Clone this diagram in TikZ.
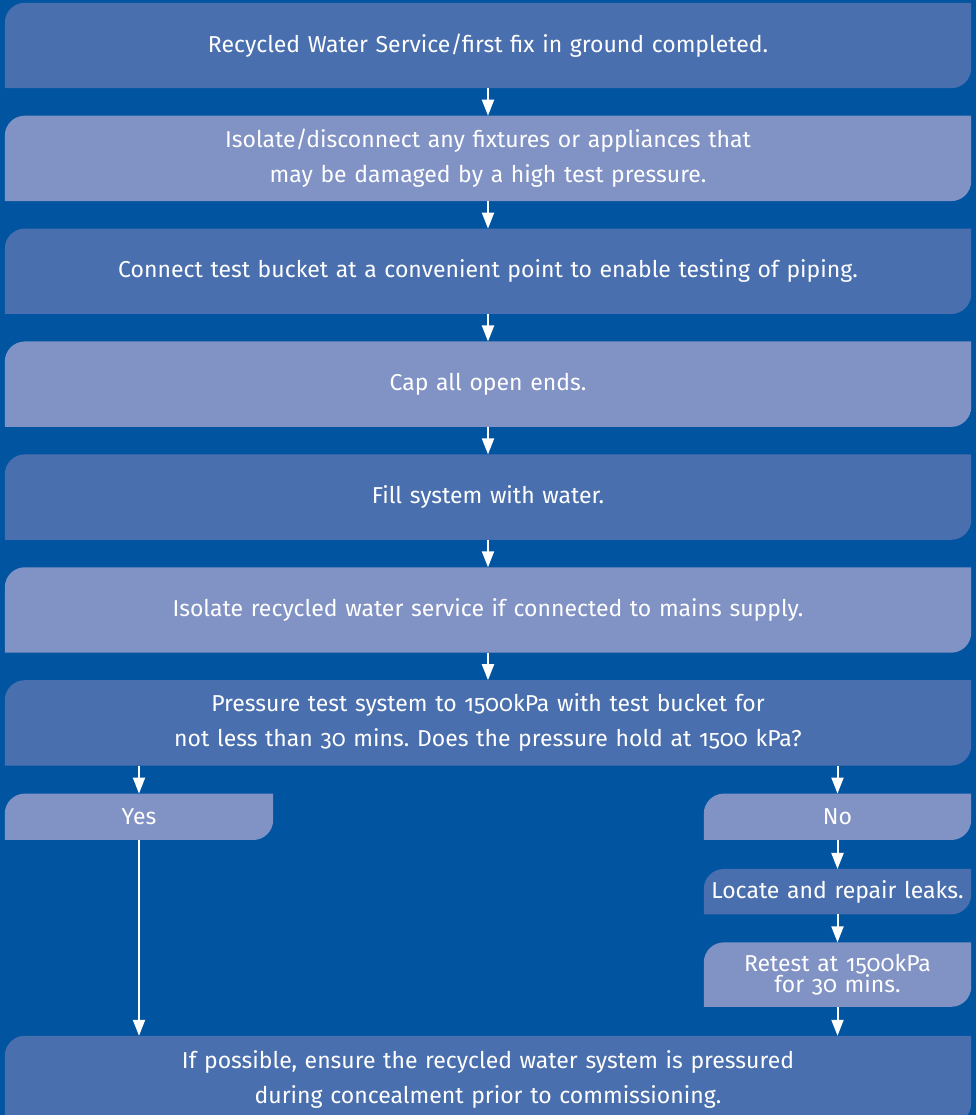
\documentclass[tikz,border=0pt]{standalone}
\usepackage{fontspec}
\setmainfont[Numbers=OldStyle]{Fira Sans}
\usepackage{tikz}
\usetikzlibrary{positioning,arrows.meta,backgrounds}
\frenchspacing

\definecolor{pagebg}{RGB}{0,84,160}
\definecolor{darkbox}{RGB}{74,111,174}
\definecolor{lightbox}{RGB}{129,146,197}

% fill a box with the top left and bottom right corners rounded
\newcommand{\tabfill}[2]{\fill[#2] ([yshift=-20pt]#1.north west) arc[start angle=180, end angle=90, radius=20pt] -- (#1.north east) -- ([yshift=20pt]#1.south east) arc[start angle=0, end angle=-90, radius=20pt] -- (#1.south west) -- cycle;}

\begin{document}
\begin{tikzpicture}[x=1pt, y=1pt, node distance=27.5pt,
  wide/.style = {minimum width=966pt, minimum height=85pt, inner sep=0pt, text width=940pt, align=center, text=white, font=\fontsize{23}{35}\selectfont},
  side/.style = {minimum width=267pt, minimum height=46pt, inner sep=0pt, text width=264pt, align=center, text=white, font=\fontsize{23}{21}\selectfont},
  flow/.style = {draw=white, line width=2pt, -{Triangle[width=12pt, length=16pt]}}]
\useasboundingbox (0,0) rectangle (976,1115);

\node[wide] (b1) at (488,1069.5) {Recycled Water Service/first fix in ground completed.};
\node[wide, below=of b1] (b2) {Isolate/disconnect any fixtures or appliances that\\ may be damaged by a high test pressure.};
\node[wide, below=of b2] (b3) {Connect test bucket at a convenient point to enable testing of piping.};
\node[wide, below=of b3] (b4) {Cap all open ends.};
\node[wide, below=of b4] (b5) {Fill system with water.};
\node[wide, below=of b5] (b6) {Isolate recycled water service if connected to mains supply.};
\node[wide, below=of b6] (b7) {Pressure test system to 1500kPa with test bucket for\\ not less than 30 mins. Does the pressure hold at 1500 kPa?};
\node[side, minimum width=268pt, below right=28pt and 0pt of b7.south west] (yes) {Yes};
\node[side, below left=28pt and 0pt of b7.south east] (no) {No};
\node[side, minimum height=45pt, below=29pt of no] (leak) {Locate and repair leaks.};
\node[side, minimum height=64pt, below=28pt of leak] (retest) {Retest at 1500kPa\\ for 30 mins.};
\node[wide, minimum height=87pt, below=29pt of retest.south -| b7.south, anchor=north] (last) {If possible, ensure the recycled water system is pressured\\ during concealment prior to commissioning.};

\begin{scope}[on background layer]
\fill[pagebg] (0,0) rectangle (976,1115);
\tabfill{b1}{darkbox}
\tabfill{b2}{lightbox}
\tabfill{b3}{darkbox}
\tabfill{b4}{lightbox}
\tabfill{b5}{darkbox}
\tabfill{b6}{lightbox}
\tabfill{b7}{darkbox}
\tabfill{yes}{lightbox}
\tabfill{no}{lightbox}
\tabfill{leak}{darkbox}
\tabfill{retest}{lightbox}
\tabfill{last}{darkbox}
\end{scope}

\foreach \a/\b in {b1/b2, b2/b3, b3/b4, b4/b5, b5/b6, b6/b7, no/leak, leak/retest}
  \draw[flow] (\a) -- (\b);
\draw[flow] (yes.north |- b7.south) -- (yes.north);
\draw[flow] (no.north |- b7.south) -- (no.north);
\draw[flow] (yes) -- (yes.south |- last.north);
\draw[flow] (retest) -- (retest.south |- last.north);
\end{tikzpicture}
\end{document}
